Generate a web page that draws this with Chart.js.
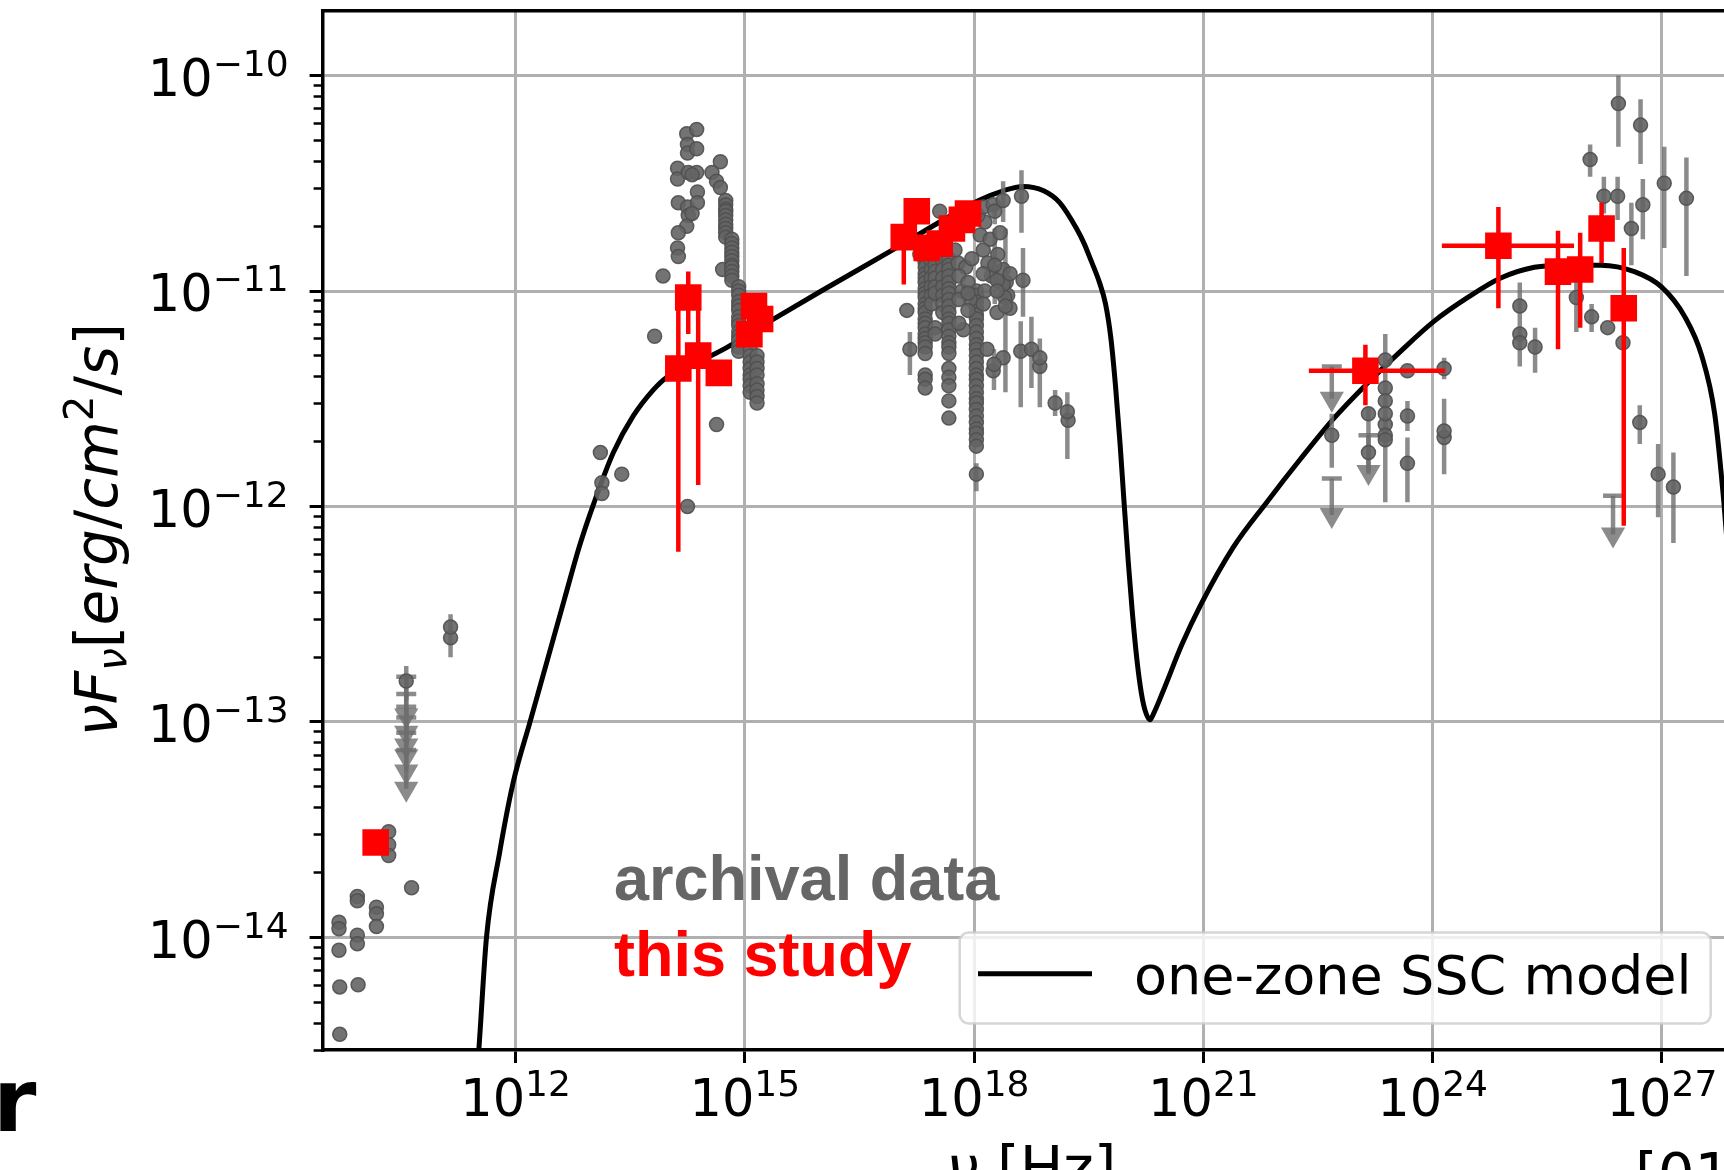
<!DOCTYPE html>
<html>
<head>
<meta charset="utf-8">
<title>SED with one-zone SSC model</title>
<script src="https://cdn.jsdelivr.net/npm/chart.js@4.4.1/dist/chart.umd.min.js"></script>
<style>
  html, body { margin: 0; padding: 0; background: #fff; overflow: hidden; }
  #wrap { position: relative; width: 1740px; height: 1170px; }
</style>
</head>
<body>
<div id="wrap"><canvas id="js-chartjs-sed" width="1740" height="1170"></canvas></div>
<script>
// All values are log10(nu / Hz) and log10(nuFnu / erg cm^-2 s^-1)

// Axis decades
const xTickExponents = [12, 15, 18, 21, 24, 27];
const yTickExponents = [-14, -13, -12, -11, -10];
const yMinorMantissas = [2, 3, 4, 5, 6, 7, 8, 9];

// One-zone SSC model
const modelLogNu = [11.41, 11.52, 11.62, 11.79, 11.97, 12.19, 12.64, 12.84, 13.02, 13.28, 13.54, 13.80, 13.98, 14.30, 14.75, 15.33,
  16.00, 16.98, 17.50, 18.06, 18.38, 18.64, 18.91, 19.12, 19.34, 19.44, 19.52, 19.64, 19.72, 19.79, 19.85, 19.91, 19.96, 20.02,
  20.07, 20.13, 20.19, 20.24, 20.30, 20.35, 20.47, 20.72, 20.96, 21.39, 21.83, 22.27, 22.71, 23.14, 23.58, 24.02, 24.46, 24.89,
  25.33, 25.77, 26.20, 26.64, 26.99, 27.30, 27.52, 27.69, 27.81, 27.89];
const modelLogFlux = [-15.00, -14.52, -14.00, -13.61, -13.28, -13.00, -12.43, -12.18, -11.99, -11.75, -11.58, -11.46, -11.40, -11.345, -11.265, -11.14,
  -11.00, -10.80, -10.69, -10.58, -10.535, -10.515, -10.535, -10.59, -10.71, -10.78, -10.85, -10.96, -11.06, -11.22, -11.44, -11.71, -11.97, -12.27,
  -12.49, -12.71, -12.87, -12.95, -12.99, -12.96, -12.86, -12.64, -12.46, -12.19, -11.98, -11.78, -11.59, -11.43, -11.28, -11.14, -11.03, -10.94,
  -10.89, -10.88, -10.88, -10.91, -10.98, -11.12, -11.30, -11.57, -11.98, -12.34];

// This study (red squares), null = no bar
const studyLogNu = [10.17, 14.26, 14.13, 14.39, 14.66, 15.12, 15.06, 15.20, 17.08, 17.25, 17.38, 17.55, 17.71, 17.84, 17.92, 23.12, 24.86, 25.64, 25.93, 26.21, 26.50];
const studyLogFlux = [-13.56, -11.03, -11.36, -11.30, -11.38, -11.07, -11.20, -11.13, -10.75, -10.63, -10.80, -10.78, -10.71, -10.67, -10.64, -11.37, -10.79, -10.91, -10.90, -10.71, -11.08];
const studyLogFluxLo = [null, -11.20, -12.21, -11.90, null, null, null, null, -10.97, null, null, null, null, null, null, -11.53, -11.08, -11.27, -11.17, -10.87, -12.09];
const studyLogFluxHi = [null, -10.91, -11.04, -11.04, null, null, null, null, -10.70, null, null, null, null, null, null, -11.25, -10.61, -10.72, -10.73, -10.59, -10.80];
const studyLogNuLo = [null, null, null, null, null, null, null, null, null, null, null, null, null, null, null, 22.38, 24.12, null, null, null, null];
const studyLogNuHi = [null, null, null, null, null, null, null, null, null, null, null, null, null, null, null, 24.16, 25.85, null, null, null, null];

// Archival data without error bars
const radioLogNu = [9.69, 9.69, 9.69, 9.70, 9.70, 9.93, 9.93, 9.93, 9.93, 9.94, 10.18, 10.18, 10.18, 10.34, 10.34, 10.34, 10.64, 11.15];
const radioLogFlux = [-13.93, -13.96, -14.06, -14.23, -14.45, -13.81, -13.83, -13.99, -14.03, -14.22, -13.86, -13.89, -13.95, -13.51, -13.57, -13.62, -13.77, -12.61];

const opticalLogNu = [14.24, 14.37, 14.25, 14.25, 14.37, 14.12, 14.12, 14.26, 14.37, 14.38, 14.13, 14.25, 14.38, 14.26, 14.24, 14.13, 14.12,
  14.13, 13.93, 13.82, 14.63, 14.25, 13.11, 13.39, 13.13, 13.13, 14.68, 14.57, 14.63, 14.68, 14.71, 14.31, 14.31];
const opticalLogFlux = [-10.27, -10.25, -10.32, -10.36, -10.34, -10.43, -10.48, -10.45, -10.45, -10.54, -10.59, -10.61, -10.59, -10.65, -10.70, -10.73, -10.80,
  -10.84, -10.93, -11.21, -11.62, -12.00, -11.75, -11.85, -11.89, -11.94, -10.40, -10.45, -10.49, -10.52, -10.90, -10.64, -10.46];

const uvLogNu = [
  14.75, 14.75, 14.75, 14.75, 14.75, 14.75, 14.75, 14.75, 14.75, 14.75,
  14.83, 14.83, 14.83, 14.83, 14.83, 14.83, 14.83, 14.83, 14.83, 14.83, 14.83,
  14.92, 14.92, 14.92, 14.92, 14.92, 14.92, 14.92, 14.92, 14.92, 14.92, 14.92, 14.92, 14.92, 14.92,
  15.07, 15.07, 15.07, 15.07, 15.07, 15.07, 15.07, 15.07,
  15.16, 15.16, 15.16, 15.16, 15.16, 15.16, 15.16, 15.16];
const uvLogFlux = [
  -10.58, -10.60, -10.62, -10.63, -10.65, -10.67, -10.69, -10.71, -10.73, -10.75,
  -10.76, -10.78, -10.80, -10.82, -10.84, -10.86, -10.88, -10.89, -10.91, -10.93, -10.95,
  -10.98, -11.00, -11.02, -11.05, -11.07, -11.09, -11.12, -11.14, -11.16, -11.19, -11.21, -11.23, -11.26, -11.28,
  -11.27, -11.30, -11.33, -11.36, -11.39, -11.41, -11.44, -11.47,
  -11.30, -11.33, -11.36, -11.39, -11.43, -11.46, -11.49, -11.52];

const xrayColumnLogNu = [
  17.36, 17.36, 17.36, 17.36, 17.36, 17.36, 17.36, 17.36, 17.36, 17.36, 17.36, 17.36, 17.36, 17.36, 17.36, 17.36, 17.36, 17.36, 17.36, 17.36, 17.36, 17.36, 17.36,
  17.44, 17.44, 17.44, 17.44, 17.44, 17.44,
  17.49, 17.49, 17.49, 17.49, 17.49, 17.49, 17.49, 17.49,
  17.59, 17.59, 17.59, 17.59, 17.59, 17.59, 17.59,
  17.67, 17.67, 17.67, 17.67, 17.67, 17.67, 17.67, 17.67, 17.67, 17.67, 17.67, 17.67, 17.67, 17.67, 17.67, 17.67, 17.67, 17.67, 17.67, 17.67, 17.67, 17.67,
  18.03, 18.03, 18.03, 18.03, 18.03, 18.03, 18.03, 18.03, 18.03, 18.03, 18.03, 18.03, 18.03, 18.03, 18.03, 18.03, 18.03, 18.03, 18.03, 18.03, 18.03, 18.03, 18.03, 18.03, 18.03, 18.03, 18.03];
const xrayColumnLogFlux = [
  -10.85, -10.87, -10.89, -10.92, -10.94, -10.96, -10.99, -11.01, -11.03, -11.06, -11.08, -11.10, -11.13, -11.15, -11.17, -11.20, -11.22, -11.24, -11.26, -11.29, -11.39, -11.41, -11.45,
  -10.86, -10.90, -10.94, -10.98, -11.02, -11.06,
  -10.85, -10.88, -10.91, -10.94, -10.98, -11.01, -11.17, -11.20,
  -10.86, -10.90, -10.94, -10.98, -11.02, -11.06, -11.10,
  -10.85, -10.88, -10.90, -10.93, -10.96, -10.99, -11.01, -11.04, -11.07, -11.10, -11.13, -11.15, -11.18, -11.21, -11.24, -11.26, -11.29, -11.36, -11.40, -11.44, -11.51, -11.59,
  -11.00, -11.02, -11.05, -11.08, -11.11, -11.13, -11.16, -11.19, -11.22, -11.25, -11.27, -11.30, -11.33, -11.36, -11.39, -11.41, -11.44, -11.47, -11.50, -11.52, -11.55, -11.58, -11.61, -11.64, -11.66, -11.69, -11.72];

const xrayLogNu = [17.79, 17.89, 17.97, 18.08, 18.12, 18.18, 18.23, 18.31, 18.38, 18.42, 18.44, 17.84, 17.95, 18.14, 18.21, 18.34, 18.14, 18.05,
  18.12, 18.25, 17.55, 17.75, 17.62, 17.42, 17.29, 17.86, 17.80, 18.17, 18.25, 18.38, 18.86, 19.23, 17.12, 18.38, 18.40,
  17.80, 17.80, 17.92, 17.92, 17.92, 18.12, 18.12, 18.30, 18.30, 18.30, 18.47, 18.47];
const xrayLogFlux = [-10.87, -10.89, -10.85, -10.74, -10.81, -10.87, -10.93, -10.83, -10.90, -10.96, -11.02, -11.00, -11.04, -11.00, -10.76, -10.73, -10.68, -10.65,
  -10.61, -10.60, -10.63, -10.81, -10.79, -10.81, -10.83, -11.18, -11.15, -11.27, -11.37, -11.31, -11.35, -11.60, -11.09, -10.97, -11.03,
  -10.93, -11.04, -10.96, -11.01, -11.09, -10.92, -11.06, -10.95, -11.00, -11.10, -10.92, -11.08];

const gammaLogNu = [23.16, 23.38, 23.38, 23.38, 23.38, 23.38, 23.38, 23.67, 24.15, 25.14, 25.14, 26.29, 26.49];
const gammaLogFlux = [-11.75, -11.32, -11.45, -11.51, -11.62, -11.67, -11.69, -11.37, -11.68, -11.20, -11.24, -11.17, -11.24];

// Archival data with vertical error bars
const barLogNu = [11.15, 10.57,
  18.27, 18.38, 18.27, 18.26, 18.41, 18.64, 18.61, 18.75, 18.86, 19.06, 19.22, 17.16, 18.62, 18.03,
  22.68, 23.16, 23.38, 23.67, 23.67, 24.15, 24.15, 25.14, 25.34, 25.88, 26.08, 26.06, 26.24, 26.42, 26.43, 26.72, 26.75, 26.60, 27.03, 27.32, 26.71, 26.95, 27.15];
const barLogFlux = [-12.56, -12.81,
  -10.63, -10.58, -10.88, -11.34, -11.07, -10.95, -11.28, -11.27, -11.31, -11.52, -11.56, -11.27, -10.56, -11.85,
  -11.67, -11.57, -11.57, -11.58, -11.80, -11.36, -11.65, -11.07, -11.26, -11.03, -11.12, -10.39, -10.56, -10.56, -10.13, -10.23, -10.60, -10.71, -10.50, -10.57, -11.61, -11.85, -11.91];
const barLogLo = [-12.70, -12.90,
  -10.69, -10.68, -11.06, -11.46, -11.47, -11.12, -11.54, -11.45, -11.54, -11.58, -11.78, -11.39, -10.73, -11.93,
  -11.82, -11.85, -11.98, -11.65, -11.98, -11.41, -11.85, -11.35, -11.38, -11.19, -11.19, -10.47, -10.64, -10.67, -10.33, -10.41, -10.76, -10.88, -10.80, -10.93, -11.71, -12.05, -12.17];
const barLogHi = [-12.50, -12.74,
  -10.59, -10.49, -10.71, -11.27, -10.71, -10.80, -11.14, -11.12, -11.22, -11.46, -11.47, -11.19, -10.44, -11.80,
  -11.57, -11.54, -11.20, -11.51, -11.68, -11.31, -11.50, -10.96, -11.17, -10.93, -11.06, -10.32, -10.47, -10.47, -10.00, -10.11, -10.48, -10.59, -10.33, -10.38, -11.53, -11.71, -11.75];

// Archival upper limits: limit value and arrow end
const limitLogNu = [10.57, 10.57, 10.57, 10.57, 10.57, 10.57, 22.68, 22.68, 23.16, 26.36];
const limitLogFlux = [-12.79, -12.87, -12.93, -12.98, -13.05, -13.13, -11.35, -11.87, -11.67, -11.95];
const limitLogEnd = [-12.97, -13.05, -13.11, -13.16, -13.23, -13.31, -11.50, -12.04, -11.84, -12.13];

const FONT = '"DejaVu Sans", sans-serif';
const GRAY = 'rgba(100,100,100,0.9)';
const GRAY_BAR = 'rgba(110,110,110,0.8)';

// Chart.js has no error bars, draw them from the scales before each dataset
const errorBarPlugin = {
  id: 'errorBars',
  beforeDatasetDraw(chart, args) {
    const ds = chart.data.datasets[args.index];
    if (!ds.barColor) return;
    const {ctx, chartArea: area, scales: {x, y}} = chart;
    ctx.save();
    ctx.beginPath();
    ctx.rect(area.left, area.top, area.right - area.left, area.bottom - area.top);
    ctx.clip();
    ctx.strokeStyle = ds.barColor;
    ctx.lineWidth = ds.barWidth;
    ds.data.forEach(p => {
      const px = x.getPixelForValue(p.x);
      const py = y.getPixelForValue(p.y);
      ctx.beginPath();
      if (p.yLo != null) {
        ctx.moveTo(px, y.getPixelForValue(p.yLo));
        ctx.lineTo(px, y.getPixelForValue(p.yHi));
      }
      if (p.xLo != null) {
        ctx.moveTo(x.getPixelForValue(p.xLo), py);
        ctx.lineTo(x.getPixelForValue(p.xHi), py);
      }
      if (p.yCap != null) {
        ctx.moveTo(px, y.getPixelForValue(p.yCap));
        ctx.lineTo(px, py);
      }
      ctx.stroke();
    });
    ctx.restore();
  }
};

// Draw "10" with a raised exponent like matplotlib mathtext
function drawPower(ctx, exp, x, baseline, align) {
  const base = '10';
  const sup = String(exp).replace('-', '\u2212');
  ctx.font = '51px ' + FONT;
  const wBase = ctx.measureText(base).width;
  ctx.font = '36px ' + FONT;
  const wSup = ctx.measureText(sup).width;
  const start = align === 'center' ? x - (wBase + wSup) / 2 : x - (wBase + wSup);
  ctx.textAlign = 'left';
  ctx.font = '51px ' + FONT;
  ctx.fillText(base, start, baseline);
  ctx.font = '36px ' + FONT;
  ctx.fillText(sup, start + wBase, baseline - 20);
}

// Mixed italic / upright runs, centred on x
function drawRuns(ctx, runs, size, x, baseline) {
  const fontOf = r => (r.it ? 'italic ' : '') + (size * (r.s || 1)) + 'px ' + FONT;
  let total = 0;
  runs.forEach(r => { ctx.font = fontOf(r); r.w = ctx.measureText(r.t).width; total += r.w; });
  let cx = x - total / 2;
  ctx.textAlign = 'left';
  runs.forEach(r => {
    ctx.font = fontOf(r);
    ctx.fillText(r.t, cx, baseline + (r.dy || 0));
    cx += r.w;
  });
}

const textPlugin = {
  id: 'sedText',
  afterDraw(chart) {
    const {ctx, chartArea: area, scales} = chart;
    ctx.save();
    ctx.fillStyle = '#000';
    ctx.textBaseline = 'alphabetic';

    // Tick labels
    xTickExponents.forEach(e => {
      drawPower(ctx, e, scales.x.getPixelForValue(10 ** e), area.bottom + 66, 'center');
    });
    yTickExponents.forEach(e => {
      drawPower(ctx, e, area.left - 34, scales.y.getPixelForValue(10 ** e) + 20.3, 'right');
    });

    // Axis titles
    drawRuns(ctx, [{t: '\u03bd', it: true}, {t: ' [Hz]'}], 58, (area.left + area.right) / 2, 1188);
    ctx.save();
    ctx.translate(116.7, 529.8);
    ctx.rotate(-Math.PI / 2);
    drawRuns(ctx, [
      {t: '\u03bd', it: true}, {t: 'F', it: true}, {t: '\u03bd', it: true, s: 0.7, dy: 9},
      {t: '['}, {t: 'erg', it: true}, {t: '/'}, {t: 'cm', it: true}, {t: '2', s: 0.7, dy: -24},
      {t: '/'}, {t: 's', it: true}, {t: ']'}
    ], 58, 0, 0);
    ctx.restore();

    // Cut-off caption pieces at the figure edges
    ctx.textAlign = 'left';
    ctx.font = '58px ' + FONT;
    ctx.fillText('[01', 1635, 1195);
    ctx.font = 'bold 88px ' + FONT;
    ctx.fillText('r', -7, 1131);

    // Data source notes
    ctx.font = 'bold 63px "Liberation Sans", Arial, sans-serif';
    ctx.fillStyle = '#666666';
    ctx.fillText('archival data', 614, 900);
    ctx.fillStyle = '#ff0000';
    ctx.fillText('this study', 614, 976);

    // Legend box
    const lx = 959.7, ly = 932.6, lw = 751, lh = 91, r = 9;
    ctx.beginPath();
    ctx.moveTo(lx + r, ly);
    ctx.arcTo(lx + lw, ly, lx + lw, ly + lh, r);
    ctx.arcTo(lx + lw, ly + lh, lx, ly + lh, r);
    ctx.arcTo(lx, ly + lh, lx, ly, r);
    ctx.arcTo(lx, ly, lx + lw, ly, r);
    ctx.closePath();
    ctx.fillStyle = 'rgba(255,255,255,0.8)';
    ctx.fill();
    ctx.strokeStyle = 'rgba(204,204,204,0.8)';
    ctx.lineWidth = 2.5;
    ctx.stroke();
    ctx.beginPath();
    ctx.moveTo(978, 973.7);
    ctx.lineTo(1092, 973.7);
    ctx.strokeStyle = '#000';
    ctx.lineWidth = 5;
    ctx.stroke();
    ctx.fillStyle = '#000';
    ctx.font = '54px ' + FONT;
    ctx.fillText('one-zone SSC model', 1134, 993.6);
    ctx.restore();
  }
};

class pageSedChart {
  /*
   * Init Chart
   *
   */
  static initSedChartJS() {
    // Set Global Chart.js configuration
    Chart.defaults.font.family = FONT;
    Chart.defaults.color = '#000';
    Chart.defaults.animation = false;
    Chart.defaults.plugins.legend.display = false;
    Chart.defaults.plugins.tooltip.enabled = false;

    // Chart Container
    let chartSedCon = document.getElementById('js-chartjs-sed');

    // Points
    const pow = v => (v === null ? null : 10 ** v);
    const toPoints = (nu, flux) => nu.map((v, i) => ({x: pow(v), y: pow(flux[i])}));

    let archivalPoints = [].concat(
      toPoints(radioLogNu, radioLogFlux),
      toPoints(opticalLogNu, opticalLogFlux),
      toPoints(uvLogNu, uvLogFlux),
      toPoints(xrayColumnLogNu, xrayColumnLogFlux),
      toPoints(xrayLogNu, xrayLogFlux),
      toPoints(gammaLogNu, gammaLogFlux),
      barLogNu.map((v, i) => ({x: pow(v), y: pow(barLogFlux[i]), yLo: pow(barLogLo[i]), yHi: pow(barLogHi[i])}))
    );
    let studyPoints = studyLogNu.map((v, i) => ({
      x: pow(v), y: pow(studyLogFlux[i]),
      yLo: pow(studyLogFluxLo[i]), yHi: pow(studyLogFluxHi[i]),
      xLo: pow(studyLogNuLo[i]), xHi: pow(studyLogNuHi[i])
    }));
    let limitCaps = toPoints(limitLogNu, limitLogFlux);
    let limitArrows = limitLogNu.map((v, i) => ({x: pow(v), y: pow(limitLogEnd[i]), yCap: pow(limitLogFlux[i])}));

    // SED Data
    let chartSedData = {
      datasets: [
        {
          label: 'one-zone SSC model',
          data: toPoints(modelLogNu, modelLogFlux),
          showLine: true,
          cubicInterpolationMode: 'monotone',
          borderColor: '#000',
          borderWidth: 5,
          pointRadius: 0,
          clip: 0,
          order: 5
        },
        {
          label: 'upper limits',
          data: limitArrows,
          barColor: GRAY_BAR,
          barWidth: 4.5,
          pointStyle: 'triangle',
          pointRotation: 180,
          pointRadius: 14,
          pointBackgroundColor: GRAY_BAR,
          pointBorderWidth: 0,
          order: 4
        },
        {
          label: 'upper limit caps',
          data: limitCaps,
          pointStyle: 'line',
          pointRadius: 10,
          pointBorderColor: GRAY_BAR,
          pointBorderWidth: 4.5,
          order: 4
        },
        {
          label: 'archival data',
          data: archivalPoints,
          barColor: GRAY_BAR,
          barWidth: 4.5,
          pointStyle: 'circle',
          pointRadius: 7,
          pointBackgroundColor: GRAY,
          pointBorderColor: 'rgba(80,80,80,0.9)',
          pointBorderWidth: 1.5,
          order: 2
        },
        {
          label: 'this study',
          data: studyPoints,
          barColor: '#ff0000',
          barWidth: 4.5,
          pointStyle: 'rect',
          pointRadius: 18.8,
          pointBackgroundColor: '#ff0000',
          pointBorderWidth: 0,
          order: 1
        }
      ]
    };

    let gridLines = {color: '#b0b0b0', lineWidth: 3, tickColor: '#000', tickLength: 13, tickWidth: 3};
    let axisBorder = {color: '#000', width: 3.5};

    let chartSedOptions = {
      responsive: false,
      devicePixelRatio: 1,
      events: [],
      layout: {autoPadding: false, padding: {top: 10.7, left: 0, right: 0, bottom: 0}},
      scales: {
        x: {
          type: 'logarithmic',
          position: 'bottom',
          min: 2.99e9,
          max: 1.05e28,
          afterBuildTicks: scale => { scale.ticks = xTickExponents.map(e => ({value: 10 ** e})); },
          afterFit: scale => { scale.height = 120; },
          ticks: {display: false},
          grid: gridLines,
          border: axisBorder
        },
        xTop: {
          type: 'logarithmic',
          position: 'top',
          min: 2.99e9,
          max: 1.05e28,
          afterFit: scale => { scale.height = 0; },
          ticks: {display: false},
          grid: {display: false},
          border: axisBorder
        },
        y: {
          type: 'logarithmic',
          position: 'left',
          weight: 1,
          min: 3.0e-15,
          max: 2.0e-10,
          afterBuildTicks: scale => { scale.ticks = yTickExponents.map(e => ({value: 10 ** e})); },
          afterFit: scale => { scale.width = 322.6; },
          ticks: {display: false},
          grid: gridLines,
          border: axisBorder
        },
        yMinor: {
          type: 'logarithmic',
          position: 'left',
          weight: 0,
          min: 3.0e-15,
          max: 2.0e-10,
          afterBuildTicks: scale => {
            let ticks = [];
            for (let e = -15; e <= -10; e++) {
              yMinorMantissas.forEach(m => {
                const v = m * 10 ** e;
                if (v > scale.min && v < scale.max) ticks.push({value: v});
              });
            }
            scale.ticks = ticks;
          },
          afterFit: scale => { scale.width = 0; },
          ticks: {display: false},
          grid: {drawOnChartArea: false, tickColor: '#000', tickLength: 9, tickWidth: 2.5},
          border: {display: false}
        }
      }
    };

    // Init Chart
    if (chartSedCon !== null) {
      new Chart(chartSedCon, {type: 'scatter', data: chartSedData, options: chartSedOptions, plugins: [errorBarPlugin, textPlugin]});
    }
  }

  /*
   * Init functionality
   *
   */
  static init() {
    this.initSedChartJS();
  }
}

// Initialize when page loads
pageSedChart.init();
</script>
</body>
</html>
